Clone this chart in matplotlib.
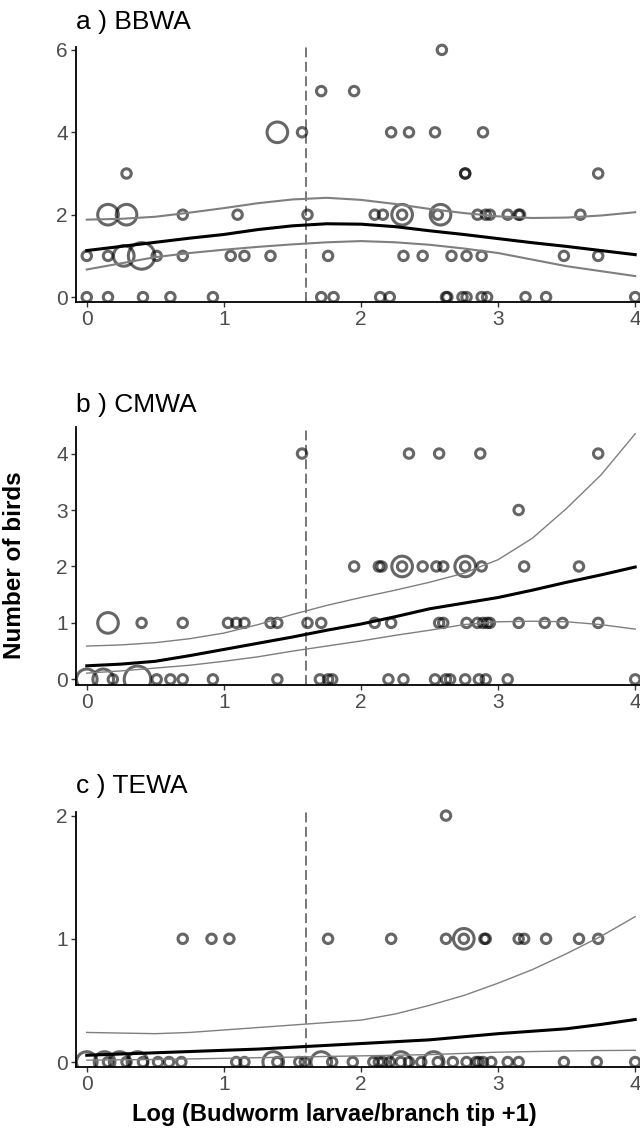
import matplotlib
matplotlib.use('Agg')
import matplotlib.pyplot as plt
from matplotlib.patches import Rectangle
import numpy as np

plt.rcParams['font.family'] = ['Liberation Sans', 'DejaVu Sans']

# budworm index (log larvae/branch tip + 1) for the fitted curves
curve_x = [0, 0.25, 0.5, 0.75, 1, 1.25, 1.5, 1.75, 2, 2.25, 2.5, 2.75, 3, 3.25, 3.5, 3.75, 4]
threshold = 1.6

# a) BBWA  -- observed counts (x, birds, size class)
bbwa_x = [2.59,
          1.71, 1.95,
          1.39, 1.57, 2.22, 2.35, 2.54, 2.89,
          0.29, 2.76, 2.76, 3.73,
          0.155, 0.29, 0.70, 1.10, 1.61, 2.10, 2.16, 2.30, 2.30, 2.56, 2.58, 2.85, 2.91, 2.94, 3.07, 3.15, 3.16, 3.60,
          0, 0.155, 0.27, 0.40, 0.51, 0.70, 1.05, 1.15, 1.34, 1.76, 2.31, 2.45, 2.66, 2.77, 2.88, 3.48, 3.73,
          0, 0.155, 0.41, 0.61, 0.92, 1.71, 1.80, 2.14, 2.21, 2.62, 2.63, 2.74, 2.77, 2.88, 2.92, 3.20, 3.35, 4.0]
bbwa_y = [6,
          5, 5,
          4, 4, 4, 4, 4, 4,
          3, 3, 3, 3,
          2, 2, 2, 2, 2, 2, 2, 2, 2, 2, 2, 2, 2, 2, 2, 2, 2, 2,
          1, 1, 1, 1, 1, 1, 1, 1, 1, 1, 1, 1, 1, 1, 1, 1, 1,
          0, 0, 0, 0, 0, 0, 0, 0, 0, 0, 0, 0, 0, 0, 0, 0, 0, 0]
bbwa_n = [1,
          1, 1,
          2, 1, 1, 1, 1, 1,
          1, 1, 1, 1,
          2, 2, 1, 1, 1, 1, 1, 2, 1, 1, 2, 1, 1, 1, 1, 1, 1, 1,
          1, 1, 2, 3, 1, 1, 1, 1, 1, 1, 1, 1, 1, 1, 1, 1, 1,
          1, 1, 1, 1, 1, 1, 1, 1, 1, 1, 1, 1, 1, 1, 1, 1, 1, 1]
bbwa_fit = [1.13, 1.23, 1.33, 1.43, 1.52, 1.64, 1.73, 1.78, 1.77, 1.71, 1.61, 1.52, 1.42, 1.32, 1.23, 1.13, 1.03]
bbwa_upr = [1.88, 1.90, 1.95, 2.05, 2.16, 2.28, 2.37, 2.41, 2.36, 2.26, 2.14, 2.04, 1.96, 1.92, 1.93, 1.98, 2.06]
bbwa_lwr = [0.67, 0.82, 0.97, 1.07, 1.15, 1.22, 1.28, 1.33, 1.36, 1.33, 1.27, 1.18, 1.07, 0.91, 0.75, 0.63, 0.51]

# b) CMWA
cmwa_x = [1.57, 2.35, 2.57, 2.87, 3.73,
          3.15,
          1.95, 2.13, 2.15, 2.30, 2.30, 2.45, 2.55, 2.60, 2.76, 2.76, 2.88, 3.19, 3.59,
          0.155, 0.40, 0.70, 1.03, 1.09, 1.15, 1.34, 1.39, 1.61, 1.71, 2.10, 2.22, 2.57, 2.60, 2.77, 2.85,
          2.89, 2.92, 2.94, 3.15, 3.34, 3.47, 3.73,
          0, 0.12, 0.19, 0.37, 0.51, 0.61, 0.70, 0.92, 1.39, 1.70, 1.76, 1.79, 2.20, 2.31, 2.54, 2.62,
          2.65, 2.76, 2.86, 2.91, 3.07, 4.0]
cmwa_y = [4, 4, 4, 4, 4,
          3,
          2, 2, 2, 2, 2, 2, 2, 2, 2, 2, 2, 2, 2,
          1, 1, 1, 1, 1, 1, 1, 1, 1, 1, 1, 1, 1, 1, 1, 1,
          1, 1, 1, 1, 1, 1, 1,
          0, 0, 0, 0, 0, 0, 0, 0, 0, 0, 0, 0, 0, 0, 0, 0,
          0, 0, 0, 0, 0, 0]
cmwa_n = [1, 1, 1, 1, 1,
          1,
          1, 1, 1, 2, 1, 1, 1, 1, 2, 1, 1, 1, 1,
          2, 1, 1, 1, 1, 1, 1, 1, 1, 1, 1, 1, 1, 1, 1, 1,
          1, 1, 1, 1, 1, 1, 1,
          2, 2, 1, 3, 1, 1, 1, 1, 1, 1, 1, 1, 1, 1, 1, 1,
          1, 1, 1, 1, 1, 1]
cmwa_fit = [0.24, 0.27, 0.32, 0.42, 0.53, 0.64, 0.75, 0.87, 0.98, 1.11, 1.25, 1.35, 1.45, 1.58, 1.72, 1.85, 1.99]
cmwa_upr = [0.59, 0.61, 0.65, 0.72, 0.82, 0.97, 1.15, 1.31, 1.45, 1.58, 1.72, 1.88, 2.12, 2.50, 3.03, 3.62, 4.35]
cmwa_lwr = [0.11, 0.15, 0.20, 0.25, 0.32, 0.40, 0.50, 0.59, 0.68, 0.78, 0.87, 0.97, 1.02, 1.03, 1.02, 0.97, 0.89]

# c) TEWA
tewa_x = [2.62,
          0.70, 0.91, 1.04, 1.76, 2.22, 2.62, 2.75, 2.75, 2.90, 2.91, 3.15, 3.19, 3.35, 3.59, 3.73,
          0, 0.13, 0.155, 0.24, 0.29, 0.37, 0.41, 0.52, 0.60, 0.69, 1.09, 1.15, 1.36, 1.39, 1.55, 1.59,
          1.71, 1.79, 1.94, 2.09, 2.13, 2.16, 2.21, 2.29, 2.29, 2.35, 2.44, 2.53, 2.56, 2.67, 2.77,
          2.84, 2.86, 2.89, 2.95, 3.07, 3.15, 3.48, 3.72, 4.0]
tewa_y = [2,
          1, 1, 1, 1, 1, 1, 1, 1, 1, 1, 1, 1, 1, 1, 1,
          0, 0, 0, 0, 0, 0, 0, 0, 0, 0, 0, 0, 0, 0, 0, 0,
          0, 0, 0, 0, 0, 0, 0, 0, 0, 0, 0, 0, 0, 0, 0,
          0, 0, 0, 0, 0, 0, 0, 0, 0]
tewa_n = [1,
          1, 1, 1, 1, 1, 1, 2, 1, 1, 1, 1, 1, 1, 1, 1,
          2, 2, 1, 2, 1, 2, 1, 1, 1, 1, 1, 1, 2, 1, 1, 1,
          2, 1, 1, 1, 1, 1, 1, 2, 1, 1, 1, 2, 1, 1, 1,
          1, 1, 1, 1, 1, 1, 1, 1, 1]
tewa_fit = [0.055, 0.065, 0.075, 0.085, 0.095, 0.105, 0.12, 0.135, 0.15, 0.165, 0.18, 0.205, 0.23, 0.25, 0.27, 0.305, 0.345]
tewa_upr = [0.24, 0.235, 0.23, 0.24, 0.26, 0.28, 0.30, 0.32, 0.34, 0.39, 0.46, 0.54, 0.64, 0.75, 0.88, 1.02, 1.18]
tewa_lwr = [0.015, 0.018, 0.02, 0.025, 0.03, 0.035, 0.04, 0.045, 0.05, 0.055, 0.06, 0.07, 0.08, 0.085, 0.09, 0.093, 0.095]

titles = ['a ) BBWA', 'b ) CMWA', 'c ) TEWA']
yticks = [[0, 2, 4, 6], [0, 1, 2, 3, 4], [0, 1, 2]]
ylims = [(-0.12, 6.07), (-0.1, 4.47), (-0.04, 2.03)]
xticks = [0, 1, 2, 3, 4]

sizes = {1: 46, 2: 220, 3: 365}
ring = (0, 0, 0, 0.6)

panels = [
    (bbwa_x, bbwa_y, bbwa_n, bbwa_fit, bbwa_upr, bbwa_lwr),
    (cmwa_x, cmwa_y, cmwa_n, cmwa_fit, cmwa_upr, cmwa_lwr),
    (tewa_x, tewa_y, tewa_n, tewa_fit, tewa_upr, tewa_lwr),
]
boxes = [[0.118, 0.7327, 0.882, 0.2257],
         [0.118, 0.3938, 0.882, 0.2283],
         [0.118, 0.0558, 0.882, 0.2257]]
title_base = [29, 412, 793]   # pixel rows of the title baselines
ci_lw = [1.5, 1.0, 1.0]

W, H = 640, 1130
fig = plt.figure(figsize=(W / 100, H / 100), dpi=100)

for i, (px, py, pn, fit, upr, lwr) in enumerate(panels):
    ax = fig.add_axes(boxes[i])
    s = [sizes[k] for k in pn]
    sc = ax.scatter(px, py, s=s, facecolors='none', edgecolors=[ring], linewidths=2.2, zorder=2)
    # clip below the x axis only, let the top row of points overhang
    sc.set_clip_path(Rectangle((-0.05, 0), 1.1, 1.2, transform=ax.transAxes))
    ax.axvline(threshold, color='#777777', lw=1.4, ls=(0, (5.1, 2.3)), zorder=1)
    ax.plot(curve_x, upr, color='#7f7f7f', lw=ci_lw[i], zorder=3)
    ax.plot(curve_x, lwr, color='#7f7f7f', lw=ci_lw[i], zorder=3)
    ax.plot(curve_x, fit, color='black', lw=2.2, zorder=4)

    ax.set_xlim(-0.082, 4.035)
    ax.set_ylim(*ylims[i])
    ax.set_xticks(xticks)
    ax.set_yticks(yticks[i])
    ax.spines['top'].set_visible(False)
    ax.spines['right'].set_visible(False)
    ax.spines['left'].set_linewidth(1.3)
    ax.spines['bottom'].set_linewidth(1.3)
    ax.tick_params(axis='both', labelsize=15, labelcolor='#4d4d4d', color='#333333',
                   length=3.5, width=1.0, pad=2)
    fig.text(76 / W, 1 - title_base[i] / H, titles[i], ha='left', va='baseline', fontsize=19)

fig.text(14.5 / W, 0.5, 'Number of birds', rotation=90, ha='center', va='center',
         fontsize=17.5, fontweight='bold')
fig.text(334 / W, 1 - 1121 / H, 'Log (Budworm larvae/branch tip +1)', ha='center', va='baseline',
         fontsize=17, fontweight='bold')

fig.savefig('out.png', dpi=100)
